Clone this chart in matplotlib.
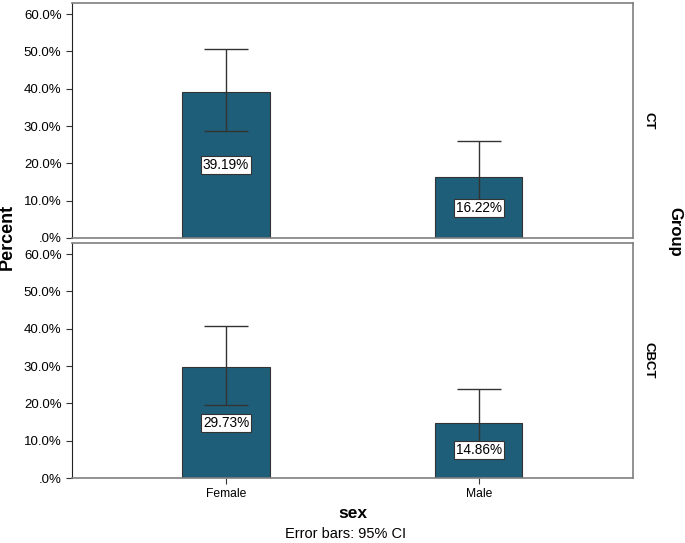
import matplotlib.pyplot as plt
from matplotlib.ticker import FuncFormatter

plt.rcParams['font.family'] = ['Liberation Sans', 'DejaVu Sans']

sexes = ['Female', 'Male']
groups = ['CT', 'CBCT']
percent = {'CT': [39.19, 16.22], 'CBCT': [29.73, 14.86]}
ci_low = {'CT': [28.8, 6.5], 'CBCT': [19.6, 5.8]}
ci_high = {'CT': [50.6, 25.9], 'CBCT': [40.7, 23.9]}
yticks = [0, 10, 20, 30, 40, 50, 60]

bar_color = '#1f5e78'
frame_color = '#7f7f7f'


def pct_fmt(v, pos):
    return '.0%' if v == 0 else f'{v:.1f}%'


fig = plt.figure(figsize=(6.85, 5.43), dpi=100)
axes = [fig.add_axes([0.105, 0.5617, 0.819, 0.4328]),
        fig.add_axes([0.105, 0.1197, 0.819, 0.4328])]

x = list(range(len(sexes)))
for ax, g in zip(axes, groups):
    vals = percent[g]
    lo = [v - l for v, l in zip(vals, ci_low[g])]
    hi = [h - v for v, h in zip(vals, ci_high[g])]
    ax.bar(x, vals, width=0.345, color=bar_color, edgecolor='#333333', linewidth=0.8, zorder=2)
    ax.errorbar(x, vals, yerr=[lo, hi], fmt='none', ecolor='#333333', elinewidth=1.0,
                capsize=16, capthick=1.0, zorder=3)
    for xi, v in zip(x, vals):
        ax.text(xi, v / 2, f'{v:.2f}%', ha='center', va='center', fontsize=9.8, zorder=4,
                bbox=dict(boxstyle='square,pad=0.15', facecolor='white', edgecolor='#333333', linewidth=0.8))
    ax.set_xlim(-0.61, 1.61)
    ax.set_ylim(0, 63)
    ax.set_yticks(yticks)
    ax.yaxis.set_major_formatter(FuncFormatter(pct_fmt))
    ax.tick_params(axis='y', labelsize=9.5, length=4, direction='out', color='#333333')
    for side in ['top', 'right', 'bottom']:
        ax.spines[side].set_color(frame_color)
        ax.spines[side].set_linewidth(1.2)
    ax.spines['left'].set_color('#222222')
    ax.text(1.027, 0.5, g, transform=ax.transAxes, rotation=-90, ha='center', va='center',
            fontsize=9.5, fontweight='bold')

axes[0].set_xticks([])
axes[1].set_xticks(x)
axes[1].set_xticklabels(sexes)
axes[1].tick_params(axis='x', labelsize=8.7, length=4, color='#333333')
axes[1].set_xlabel('sex', fontsize=12.5, fontweight='bold', labelpad=4)

fig.text(0.011, 0.564, 'Percent', rotation=90, ha='center', va='center', fontsize=13, fontweight='bold')
fig.text(0.985, 0.573, 'Group', rotation=-90, ha='center', va='center', fontsize=12, fontweight='bold')
fig.text(0.504, 0.016, 'Error bars: 95% CI', ha='center', va='center', fontsize=10.5)

fig.savefig('out.png', dpi=100)
